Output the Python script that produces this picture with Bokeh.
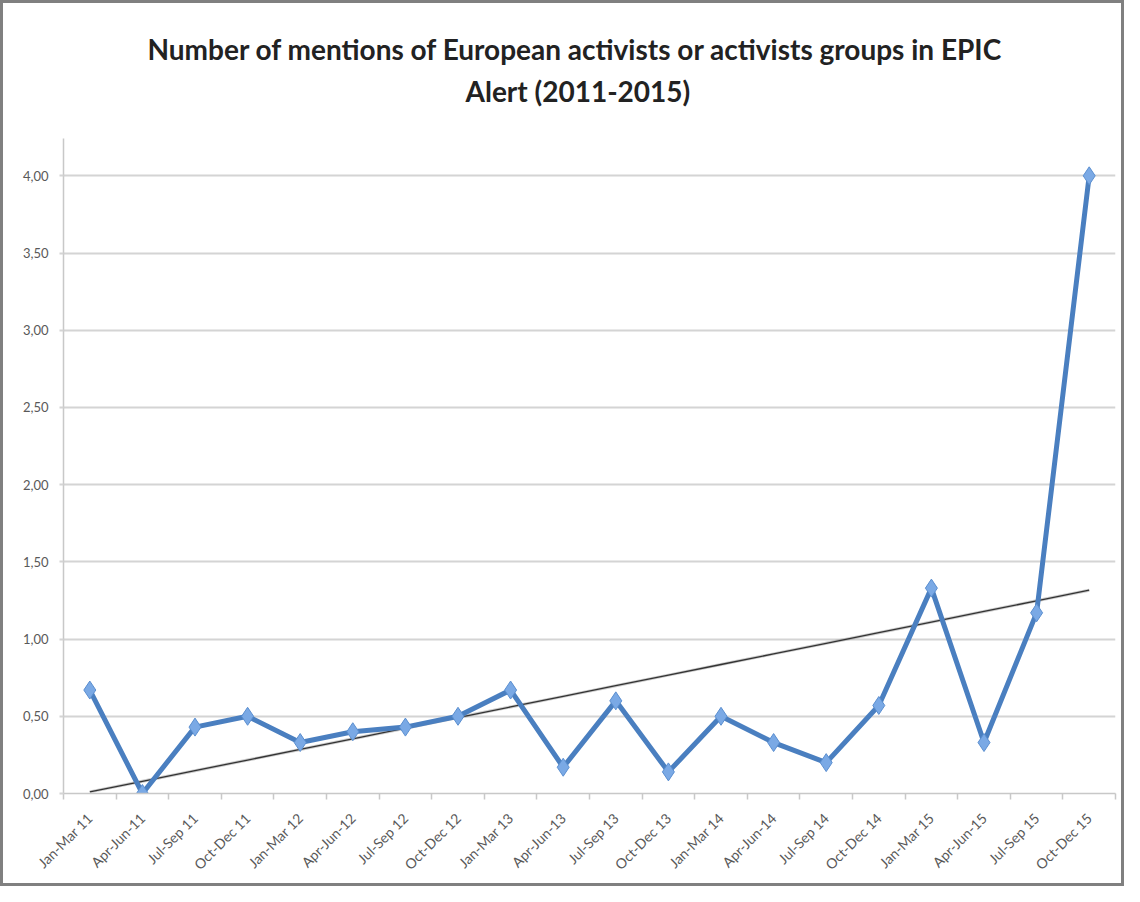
import numpy as np
from bokeh.plotting import figure
from bokeh.models import FixedTicker, CustomJSTickFormatter, Range1d, ColumnDataSource, Title
from bokeh.embed import file_html
from bokeh.resources import INLINE

quarters = ["Jan-Mar 11", "Apr-Jun-11", "Jul-Sep 11", "Oct-Dec 11",
            "Jan-Mar 12", "Apr-Jun-12", "Jul-Sep 12", "Oct-Dec 12",
            "Jan-Mar 13", "Apr-Jun-13", "Jul-Sep 13", "Oct-Dec 13",
            "Jan-Mar 14", "Apr-Jun-14", "Jul-Sep 14", "Oct-Dec 14",
            "Jan-Mar 15", "Apr-Jun-15", "Jul-Sep 15", "Oct-Dec 15"]
mentions = [0.67, 0.00, 0.43, 0.50,
            0.33, 0.40, 0.43, 0.50,
            0.67, 0.17, 0.60, 0.14,
            0.50, 0.33, 0.20, 0.57,
            1.33, 0.33, 1.17, 4.00]
y_ticks = [0.0, 0.5, 1.0, 1.5, 2.0, 2.5, 3.0, 3.5, 4.0]
title_line1 = "Number of mentions of European activists or activists groups in EPIC"
title_line2 = "Alert (2011-2015)"

xs = list(range(len(quarters)))
slope, intercept = np.polyfit(xs, mentions, 1)
trend = [intercept + slope * x for x in xs]

src = ColumnDataSource(dict(x=xs, y=mentions, t=trend))

p = figure(width=1124, height=886, output_backend="svg", toolbar_location=None,
           x_range=Range1d(-0.5, len(quarters) - 0.5), y_range=Range1d(0, 4.41),
           min_border_left=60, min_border_right=12, min_border_top=109, min_border_bottom=96)
p.styles = {"border": "3px solid #808080", "box-sizing": "border-box"}
p.outline_line_color = None
p.background_fill_color = "white"
p.border_fill_color = "white"

t2 = Title(text=title_line2, align="left", offset=402, text_font="Lato",
           text_font_size="28px", text_font_style="bold", text_color="#222222", standoff=10)
t1 = Title(text=title_line1, align="left", offset=84, text_font="Lato",
           text_font_size="28px", text_font_style="bold", text_color="#222222", standoff=2)
p.add_layout(t2, "above")
p.add_layout(t1, "above")

# trend line
p.line("x", "t", source=src, line_color="#8a8a8a", line_width=3, line_alpha=0.45)
p.line("x", "t", source=src, line_color="#333333", line_width=1.3)
# data line
p.line("x", "y", source=src, line_color="#4a7fc0", line_width=5)
p.scatter("x", "y", source=src, marker="diamond", size=18, fill_color="#7aa9e5",
          line_color="#5b8fd0", line_width=1)

# x axis
xa = p.xaxis[0]
xa.ticker = FixedTicker(ticks=xs, minor_ticks=[x - 0.5 for x in xs] + [len(xs) - 0.5])
xa.major_label_overrides = {i: q for i, q in enumerate(quarters)}
xa.major_label_orientation = np.pi / 4
xa.major_tick_out = 0
xa.major_tick_in = 0
xa.minor_tick_out = 6
xa.minor_tick_in = 0
xa.minor_tick_line_color = "#c8c8c8"
xa.minor_tick_line_width = 1.5
xa.axis_line_color = "#c8c8c8"
xa.axis_line_width = 1.5
xa.major_label_text_font = "Lato"
xa.major_label_text_font_size = "14px"
xa.major_label_text_color = "#595959"
xa.major_label_standoff = 16

# y axis
ya = p.yaxis[0]
ya.ticker = FixedTicker(ticks=y_ticks)
ya.bounds = (0, 4.24)
ya.formatter = CustomJSTickFormatter(code="return tick.toFixed(2).replace('.', ',');")
ya.major_tick_out = 4
ya.major_tick_in = 0
ya.major_tick_line_color = "#d4d4d4"
ya.major_tick_line_width = 2
ya.minor_tick_out = 0
ya.minor_tick_in = 0
ya.axis_line_color = "#c8c8c8"
ya.axis_line_width = 1.5
ya.major_label_text_font = "Lato"
ya.major_label_text_font_size = "13px"
ya.major_label_text_color = "#595959"
ya.major_label_standoff = 11

p.xgrid.grid_line_color = None
p.ygrid.grid_line_color = "#d4d4d4"
p.ygrid.grid_line_width = 2

open("out.html", "w").write(file_html(p, INLINE))
